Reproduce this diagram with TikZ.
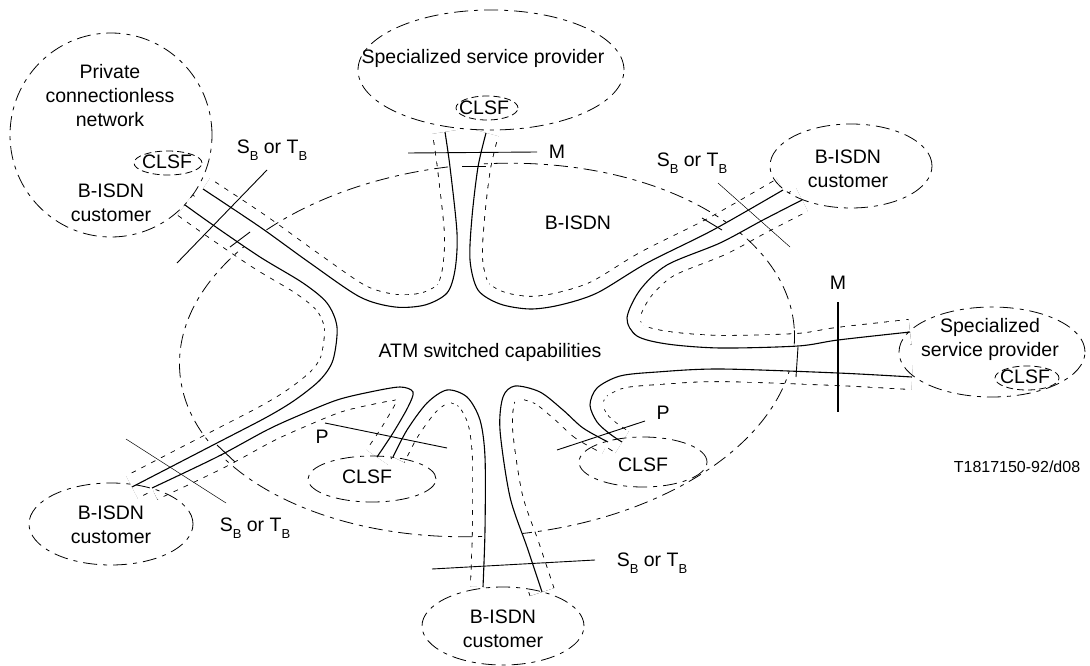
\documentclass[tikz,border=0pt]{standalone}
\usepackage{fontspec}
\setmainfont{Liberation Sans}
\usetikzlibrary{calc}
\newcommand\subB{\raisebox{-0.35em}{\fontsize{13}{13}\selectfont B}}
\newcommand\refpt{S\subB{} or T\subB}

% solid edge of the switched part, from one arm to the next
\def\edgeA{plot[smooth] coordinates {(203,189) (260,227) (310,263) (360,297) (395,307) (425,305) (447,293) (455,270) (457,233) (450,167) (445,132)}}
\def\edgeB{plot[smooth] coordinates {(486,133) (478,167) (472,217) (470,260) (478,290) (500,304) (530,309) (560,305) (597,293) (647,263) (713,230) (783,190)}}
\def\edgeC{plot[smooth] coordinates {(802,200) (763,220) (720,243) (667,265) (640,290) (627,318) (637,336) (667,344) (720,348) (798,346) (838,340) (910,332)}}
\def\edgeD{plot[smooth] coordinates {(912,377) (838,373) (720,369) (657,372) (620,376) (597,388) (590,405) (597,422) (610,434) (622,442)}}
\def\edgeE{plot[smooth] coordinates {(608,442) (583,428) (563,410) (540,392) (515,386) (503,397) (500,430) (510,497) (527,547) (542,592)}}
\def\edgeF{plot[smooth] coordinates {(483,587) (485,530) (485,457) (480,420) (467,397) (447,390) (427,403) (407,430) (393,457)}}
\def\edgeG{plot[smooth] coordinates {(377,457) (393,433) (408,407) (413,392) (400,387) (370,392) (337,400) (300,415) (267,430) (217,457) (152,488)}}
\def\edgeH{plot[smooth] coordinates {(132,487) (217,443) (267,417) (295,400) (320,380) (333,360) (337,327) (327,303) (303,283) (260,257) (213,225) (185,205)}}
\edef\edgeAll{\edgeA -- \edgeB -- \edgeC -- \edgeD -- \edgeE -- \edgeF -- \edgeG -- \edgeH -- cycle}

\begin{document}
\begin{tikzpicture}[x=1pt,y=-1pt,
  every node/.style={font=\fontsize{19.5}{24}\selectfont, inner sep=0pt},
  areaedge/.style={line width=0.8pt, dash pattern=on 14pt off 6pt on 4pt off 6pt},
  clsfedge/.style={line width=0.8pt, dash pattern=on 7pt off 4pt},
  chanink/.style={line width=26pt},
  chanclear/.style={white, line width=24.3pt},
  changap/.style={white, line width=28pt, dash pattern=on 6pt off 5pt},
  boundary/.style={line width=1.1pt},
  iface/.style={line width=0.9pt}]
  \useasboundingbox (0,0) rectangle (1090,666);

  % dashed paths beside the solid edges
  \foreach \e in {\edgeA,\edgeB,\edgeC,\edgeD,\edgeE,\edgeF,\edgeG,\edgeH}
    \draw[chanink] \e;
  \foreach \e in {\edgeA,\edgeB,\edgeC,\edgeD,\edgeE,\edgeF,\edgeG,\edgeH}
    \draw[chanclear] \e;
  \foreach \e in {\edgeA,\edgeB,\edgeC,\edgeD,\edgeE,\edgeF,\edgeG,\edgeH}
    \draw[changap] \e;

  % B-ISDN
  \draw[areaedge, rotate around={4:(487,350)}] (487,350) ellipse (308pt and 186pt);
  \fill[white] \edgeAll;

  % customers and providers
  \draw[areaedge] (111,135) ellipse (101pt and 102pt);
  \draw[clsfedge] (168,163) ellipse (34pt and 12pt);
  \draw[areaedge] (491,70) ellipse (133pt and 60pt);
  \draw[clsfedge] (487,108) ellipse (31pt and 12pt);
  \draw[areaedge] (851,166) ellipse (81pt and 42pt);
  \draw[areaedge] (992,352) ellipse (93pt and 45pt);
  \draw[clsfedge] (1027,378) ellipse (32pt and 12pt);
  \draw[areaedge] (111,524) ellipse (82pt and 41pt);
  \draw[areaedge] (503,626) ellipse (81pt and 39pt);
  \draw[areaedge] (372,479) ellipse (64pt and 23pt);
  \draw[areaedge] (643,462) ellipse (64pt and 25pt);

  \foreach \e in {\edgeA,\edgeB,\edgeC,\edgeD,\edgeE,\edgeF,\edgeG,\edgeH}
    \draw[boundary] \e;

  % where the arms leave B-ISDN
  \draw[iface] (462,166) -- (486,166);
  \draw[iface] (230,247) -- (250,232);
  \draw[iface] (702,218) -- (722,230);
  \draw[iface] (798,347) -- (796,377);
  \draw[iface] (217,445) -- (235,462);

  % reference points
  \draw[iface] (177,263) -- (267,170);
  \draw[iface] (408,153) -- (537,152);
  \draw[line width=0.5pt] (718,183) -- (790,247);
  \draw[line width=2pt] (838,302) -- (838,412);
  \draw[iface] (325,423) -- (447,448);
  \draw[iface] (557,450) -- (645,421);
  \draw[line width=0.5pt] (126,439) -- (226,503);
  \draw[iface] (432,569) -- (595,560);

  \node[align=center] (pcn) at (110,96) {Private\\connectionless\\network};
  \node (pcnclsf) at (167,162) {CLSF};
  \node[align=center] (pcncust) at (111,203) {B-ISDN\\customer};
  \node (sspup) at (483,58) {Specialized service provider};
  \node (sspupclsf) at (484,108) {CLSF};
  \node[align=center] (custur) at (848,169) {B-ISDN\\customer};
  \node[align=center] (sspright) at (990,339) {Specialized\\service provider};
  \node (sspclsf) at (1025,377) {CLSF};
  \node[align=center] (custbl) at (111,525) {B-ISDN\\customer};
  \node[align=center] (custbot) at (503,629) {B-ISDN\\customer};
  \node (clsfl) at (367,477) {CLSF};
  \node (clsfr) at (643,465) {CLSF};

  \node (bisdn) at (578,223) {B-ISDN};
  \node (atm) at (490,352) {ATM switched capabilities};
  \node (reftl) at (272,150) {\refpt};
  \node (reftr) at (692,163) {\refpt};
  \node (refbl) at (255,528) {\refpt};
  \node (refbot) at (652,563) {\refpt};
  \node (mtop) at (557,152) {M};
  \node (mright) at (838,283) {M};
  \node (pleft) at (322,437) {P};
  \node (pright) at (663,413) {P};
  \node[font=\fontsize{16}{18}\selectfont] (figno) at (1017,467) {T1817150-92/d08};
\end{tikzpicture}
\end{document}
